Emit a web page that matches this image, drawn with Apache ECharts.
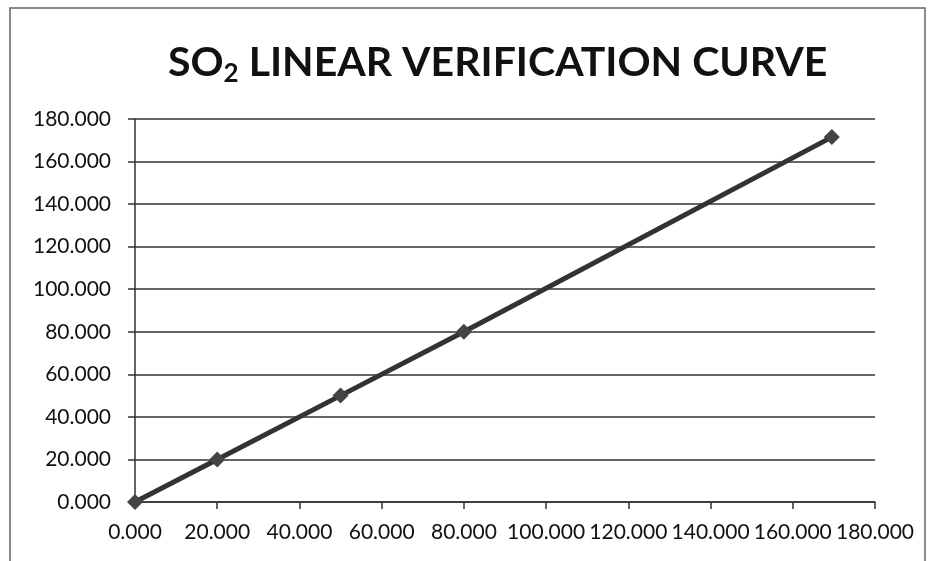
<!DOCTYPE html>
<html>
<head>
<meta charset="utf-8">
<script src="https://cdn.jsdelivr.net/npm/echarts@6/dist/echarts.min.js"></script>
<style>
  html, body { margin: 0; padding: 0; background: #fff; }
  #chart { width: 933px; height: 561px; }
</style>
</head>
<body>
<div id="chart"></div>
<script>
  // measured points of the verification curve
  var xValues = [0, 20, 50, 80, 169.5];
  var yValues = [0, 20, 50, 80, 171.5];
  var axisMin = 0;
  var axisMax = 180;
  var axisStep = 20;

  var points = xValues.map(function (x, i) { return [x, yValues[i]]; });

  var chart = echarts.init(document.getElementById('chart'));
  chart.setOption({
    backgroundColor: '#fff',
    animation: false,
    textStyle: { fontFamily: 'Lato' },
    graphic: [{
      type: 'rect',
      shape: { x: 10, y: 8, width: 915, height: 560 },
      style: { fill: 'none', stroke: '#666', lineWidth: 1.5 }
    }],
    title: {
      text: '{t|SO}{s|2}{t| LINEAR VERIFICATION CURVE}',
      left: 163,
      top: 34,
      textStyle: {
        rich: {
          t: { fontSize: 41, fontWeight: 'bold', color: '#111', fontFamily: 'Lato' },
          s: { fontSize: 26, fontWeight: 'bold', color: '#111', fontFamily: 'Lato', padding: [22, 0, 0, 0] }
        }
      }
    },
    grid: { left: 135, right: 58, top: 119, bottom: 59 },
    xAxis: {
      type: 'value',
      min: axisMin, max: axisMax, interval: axisStep,
      axisLine: { show: true, lineStyle: { color: '#333', width: 1.5 } },
      axisTick: { show: true, length: 7, lineStyle: { color: '#333', width: 1.5 } },
      axisLabel: {
        color: '#111', fontSize: 21, margin: 20, hideOverlap: false,
        formatter: function (v) { return v.toFixed(3); }
      },
      splitLine: { show: false }
    },
    yAxis: {
      type: 'value',
      min: axisMin, max: axisMax, interval: axisStep,
      axisLine: { show: true, lineStyle: { color: '#333', width: 1.5 } },
      axisTick: { show: true, length: 7, lineStyle: { color: '#333', width: 1.5 } },
      axisLabel: {
        color: '#111', fontSize: 21, margin: 24,
        formatter: function (v) { return v.toFixed(3); }
      },
      splitLine: { show: true, lineStyle: { color: '#333', width: 1.5 } }
    },
    series: [{
      type: 'line',
      data: points,
      symbol: 'diamond',
      symbolSize: 16,
      lineStyle: { color: '#333', width: 5 },
      itemStyle: { color: '#444' }
    }]
  });
</script>
</body>
</html>
